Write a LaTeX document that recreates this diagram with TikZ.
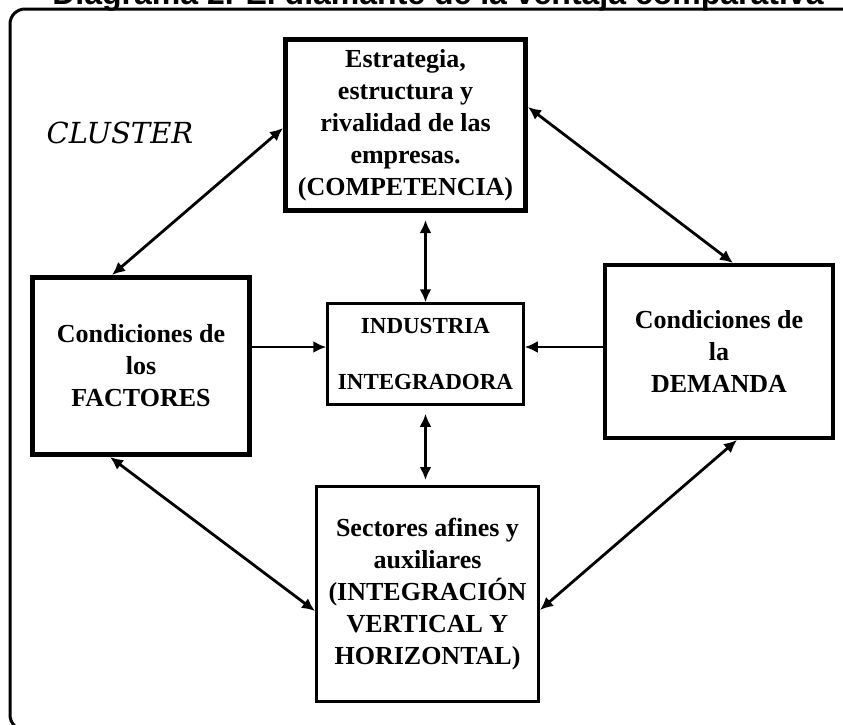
\documentclass[tikz,border=0pt]{standalone}
\usepackage{fontspec}
\setmainfont{Liberation Serif}
\newfontfamily\titlefont{Liberation Sans}
\newfontfamily\clusterfont{DejaVu Serif}
\usetikzlibrary{arrows.meta, positioning, calc}
\tikzset{
	caja/.style={draw, rectangle, align=center, inner sep=0pt,
		font=\fontsize{26}{32}\selectfont\bfseries},
	flecha/.style={line width=2.8pt, -{Latex[length=13pt,width=12pt]}},
	dflecha/.style={line width=2.8pt, {Latex[length=13pt,width=12pt]}-{Latex[length=13pt,width=12pt]}}
}
\begin{document}
\begin{tikzpicture}[x=1pt, y=-1pt]
			\useasboundingbox (0,0) rectangle (843,724);
			% frame and title
			\draw[line width=3pt, rounded corners=15pt] (10,9) rectangle (870,730);
			\node[font=\titlefont\bfseries\fontsize{32}{38}\selectfont, anchor=base, inner sep=0pt] (titulo) at (438,4) {Diagrama 2. El diamante de la ventaja comparativa};
			\node[font=\clusterfont\itshape\fontsize{29}{34}\selectfont] (cluster) at (120,133) {CLUSTER};
			% the five boxes
			\node[caja, line width=5pt, minimum width=240pt, minimum height=171pt] (estrategia) at (405.5,125) {Estrategia,\\estructura y\\rivalidad de las\\empresas.\\(COMPETENCIA)};
			\node[caja, line width=5pt, minimum width=217pt, minimum height=177pt] (factores) at (141,366) {Condiciones de\\los\\FACTORES};
			\node[caja, line width=4pt, minimum width=228pt, minimum height=173pt] (demanda) at (719,351.5) {Condiciones de\\la\\DEMANDA};
			\node[caja, line width=2.5pt, minimum width=196pt, minimum height=101pt, font=\fontsize{23}{28}\selectfont\bfseries] (industria) at (425.5,354) {INDUSTRIA\\[28pt]INTEGRADORA};
			\node[caja, line width=3pt, minimum width=222pt, minimum height=215pt] (sectores) at (427.5,594) {Sectores afines y\\auxiliares\\(INTEGRACIÓN\\VERTICAL Y\\HORIZONTAL)};
			% diamond arrows
			\draw[dflecha] ([yshift=-3pt]estrategia.west) -- ([xshift=-29pt]factores.north);
			\draw[dflecha] ([yshift=18pt]estrategia.east) -- ([xshift=14pt]demanda.north);
			\draw[dflecha] ([xshift=-31pt]factores.south) -- ([yshift=-17pt]sectores.west);
			\draw[dflecha] ([xshift=18pt]demanda.south) -- ([yshift=-16pt]sectores.east);
			% arrows into the centre
			\coordinate (entra1) at ([yshift=7pt]industria.west);
			\coordinate (entra2) at ([yshift=7pt]industria.east);
			\draw[flecha] (factores.east |- entra1) -- (entra1);
			\draw[flecha] (demanda.west |- entra2) -- (entra2);
			\draw[dflecha, shorten >=7pt] (industria.north) -- (industria.north |- estrategia.south);
			\draw[dflecha, shorten <=8pt, shorten >=5pt] (industria.south) -- (industria.south |- sectores.north);
\end{tikzpicture}
\end{document}
